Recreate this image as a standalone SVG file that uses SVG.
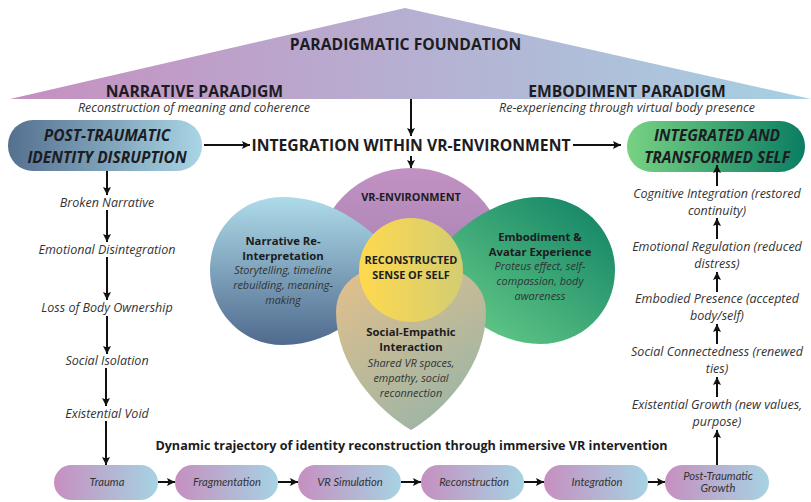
<svg xmlns="http://www.w3.org/2000/svg" width="811" height="502" viewBox="0 0 811 502">
<style>
text{font-family:"Open Sans","Noto Sans","Liberation Sans",sans-serif;text-anchor:middle;fill:#1c1c22}
.h{font-weight:700;font-size:15.7px}
.sub{font-style:italic;font-size:12.5px;fill:#333}
.pill{font-style:italic;font-weight:700;font-size:15.5px}
.step{font-style:italic;font-size:12.5px;fill:#333}
.b{font-weight:700;font-size:11.3px}
.i{font-style:italic;font-size:10.9px;fill:#333}
.lab{font-weight:700;font-size:10.9px}
.cap{font-weight:700;font-size:12.6px}
.t{font-family:Lato,"Open Sans",sans-serif;font-style:italic;font-size:11.2px;fill:#333}
.c line{stroke:#111;stroke-width:2}
.ar{marker-end:url(#a)}
.st{fill:url(#gs)}
</style>
<defs>
<marker id="a" markerUnits="userSpaceOnUse" markerWidth="10" markerHeight="10" refX="8" refY="4" orient="auto"><path d="M0,0L8,4L0,8L1.5,4Z" fill="#111"/></marker>
<linearGradient id="gt" x1="0" x2="1" y1="0" y2="0"><stop offset="0" stop-color="#c68fc0"/><stop offset="1" stop-color="#a6d0e2"/></linearGradient>
<linearGradient id="gl" x1="0" x2="1" y1="0" y2="0"><stop offset="0" stop-color="#54708f"/><stop offset="1" stop-color="#a9d5e4"/></linearGradient>
<linearGradient id="gr" x1="0" x2="1" y1="0" y2="0"><stop offset="0" stop-color="#78d283"/><stop offset="1" stop-color="#0a7d62"/></linearGradient>
<linearGradient id="gs" x1="0" x2="1" y1="0" y2="0"><stop offset="0" stop-color="#c68fc0"/><stop offset="1" stop-color="#a6d3e3"/></linearGradient>
<linearGradient id="gn" x1="0" x2="0" y1="0" y2="1"><stop offset="0" stop-color="#aedbe9"/><stop offset="1" stop-color="#4f6a8e"/></linearGradient>
<linearGradient id="gv" x1="0" x2="0" y1="0" y2="1"><stop offset="0" stop-color="#c191c2"/><stop offset="1" stop-color="#937aa8"/></linearGradient>
<linearGradient id="ge" x1="1" x2="0" y1="0" y2="1"><stop offset="0" stop-color="#0d7f64"/><stop offset="1" stop-color="#72d58c"/></linearGradient>
<linearGradient id="gp" x1="0.2" x2="0.8" y1="0" y2="1"><stop offset="0" stop-color="#e0bf8c"/><stop offset="1" stop-color="#98b4a8"/></linearGradient>
<linearGradient id="gc" x1="0" x2="1" y1="0" y2="0"><stop offset="0" stop-color="#ffd94e"/><stop offset="1" stop-color="#d3cd72"/></linearGradient>
</defs>

<g id="foundation">
<path d="M405,8L811,99H10Z" fill="url(#gt)"/>
<text class="h" x="405.5" y="50">PARADIGMATIC FOUNDATION</text>
<text class="h" x="194.5" y="96.5">NARRATIVE PARADIGM</text>
<text class="sub" x="194" y="112">Reconstruction of meaning and coherence</text>
<text class="h" x="627" y="96.5">EMBODIMENT PARADIGM</text>
<text class="sub" x="627" y="112">Re-experiencing through virtual body presence</text>
</g>
<g id="disruption">
<rect x="8" y="120" width="194" height="51" rx="25" fill="url(#gl)"/>
<text class="pill" x="107" y="140.5">POST-TRAUMATIC</text>
<text class="pill" x="107" y="162.5">IDENTITY DISRUPTION</text>
</g>
<g id="integrated">
<rect x="627" y="121" width="178" height="51" rx="25" fill="url(#gr)"/>
<text class="pill" x="717" y="141">INTEGRATED AND</text>
<text class="pill" x="717" y="163">TRANSFORMED SELF</text>
</g>
<g id="integration"><text class="h" x="411" y="151">INTEGRATION WITHIN VR-ENVIRONMENT</text></g>

<g id="vr-environment">
<circle cx="411" cy="263" r="95" fill="url(#gv)"/>
<text class="lab" x="411" y="201">VR-ENVIRONMENT</text>
</g>
<g id="embodiment">
<path d="M540,197C582,197 615,230 615,270C615,312 582,344 540,344C495,344 455,310 425,270C450,230 495,197 540,197Z" fill="url(#ge)"/>
<text class="b" x="540" y="241">Embodiment &amp;</text>
<text class="b" x="540" y="256">Avatar Experience</text>
<text class="i" x="540" y="270">Proteus effect, self-</text>
<text class="i" x="540" y="285">compassion, body</text>
<text class="i" x="540" y="300">awareness</text>
</g>
<g id="narrative">
<path d="M283,197C330,197 370,225 400,262C380,305 335,345 283,345C240,345 210,310 210,270C210,230 240,197 283,197Z" fill="url(#gn)"/>
<text class="b" x="283" y="245">Narrative Re-</text>
<text class="b" x="283" y="260">Interpretation</text>
<text class="i" x="283" y="274">Storytelling, timeline</text>
<text class="i" x="283" y="289">rebuilding, meaning-</text>
<text class="i" x="283" y="304">making</text>
</g>
<g id="social">
<path d="M411,262C455,262 486,280 486,312C486,365 445,410 411,430C377,410 336,365 336,312C336,280 367,262 411,262Z" fill="url(#gp)"/>
<text class="b" x="411" y="336">Social-Empathic</text>
<text class="b" x="411" y="351">Interaction</text>
<text class="i" x="411" y="367">Shared VR spaces,</text>
<text class="i" x="411" y="382">empathy, social</text>
<text class="i" x="411" y="397">reconnection</text>
</g>
<g id="self">
<circle cx="411" cy="270" r="52" fill="url(#gc)"/>
<text class="lab" x="411" y="263.5">RECONSTRUCTED</text>
<text class="lab" x="411" y="279">SENSE OF SELF</text>
</g>

<g id="left-steps">
<text class="step" x="107" y="206.5">Broken Narrative</text>
<text class="step" x="107" y="253.5">Emotional Disintegration</text>
<text class="step" x="107" y="312">Loss of Body Ownership</text>
<text class="step" x="107" y="365">Social Isolation</text>
<text class="step" x="107" y="417.5">Existential Void</text>
</g>
<g id="right-steps">
<text class="step" x="717" y="198">Cognitive Integration (restored</text>
<text class="step" x="717" y="215">continuity)</text>
<text class="step" x="717" y="250.5">Emotional Regulation (reduced</text>
<text class="step" x="717" y="268">distress)</text>
<text class="step" x="717" y="303">Embodied Presence (accepted</text>
<text class="step" x="717" y="320">body/self)</text>
<text class="step" x="717" y="356">Social Connectedness (renewed</text>
<text class="step" x="717" y="373">ties)</text>
<text class="step" x="717" y="408.5">Existential Growth (new values,</text>
<text class="step" x="717" y="425.5">purpose)</text>
</g>
<g id="caption"><text class="cap" x="411.5" y="450">Dynamic trajectory of identity reconstruction through immersive VR intervention</text></g>

<g id="s-trauma"><rect class="st" x="54" y="465" width="104" height="35" rx="17.5"/><text class="t" x="107" y="486">Trauma</text></g>
<g id="s-fragmentation"><rect class="st" x="175" y="465" width="103" height="35" rx="17.5"/><text class="t" x="227" y="486">Fragmentation</text></g>
<g id="s-simulation"><rect class="st" x="298" y="465" width="103" height="35" rx="17.5"/><text class="t" x="350" y="486">VR Simulation</text></g>
<g id="s-reconstruction"><rect class="st" x="421" y="465" width="103" height="35" rx="17.5"/><text class="t" x="474" y="486">Reconstruction</text></g>
<g id="s-integration"><rect class="st" x="544" y="465" width="104" height="35" rx="17.5"/><text class="t" x="597" y="486">Integration</text></g>
<g id="s-growth"><rect class="st" x="665" y="465" width="104" height="35" rx="17.5"/><text class="t" x="718" y="480">Post-Traumatic</text><text class="t" x="718" y="492">Growth</text></g>

<g id="connectors" class="c">
<line class="ar" x1="411" y1="99" x2="411" y2="136"/>
<line class="ar" x1="411" y1="156" x2="411" y2="168"/>
<line class="ar" x1="204" y1="145" x2="250" y2="145"/>
<line class="ar" x1="573" y1="145" x2="621" y2="145"/>
<line class="ar" x1="107" y1="171" x2="107" y2="195"/>
<line class="ar" x1="107" y1="210" x2="107" y2="242"/>
<line class="ar" x1="107" y1="257" x2="107" y2="300"/>
<line class="ar" x1="107" y1="316" x2="107" y2="354"/>
<line class="ar" x1="106" y1="368" x2="106" y2="406"/>
<line class="ar" x1="106" y1="421" x2="106" y2="465"/>
<line class="ar" x1="717" y1="465" x2="717" y2="430"/>
<line class="ar" x1="717" y1="397" x2="717" y2="377"/>
<line class="ar" x1="717" y1="344" x2="717" y2="324"/>
<line class="ar" x1="717" y1="292" x2="717" y2="272"/>
<line class="ar" x1="717" y1="239" x2="717" y2="218"/>
<line class="ar" x1="717" y1="186" x2="717" y2="165"/>
<line class="ar" x1="158" y1="482" x2="175" y2="482"/>
<line class="ar" x1="278" y1="482" x2="298" y2="482"/>
<line class="ar" x1="401" y1="482" x2="421" y2="482"/>
<line class="ar" x1="524" y1="482" x2="544" y2="482"/>
<line class="ar" x1="648" y1="482" x2="665" y2="482"/>
</g>
</svg>
